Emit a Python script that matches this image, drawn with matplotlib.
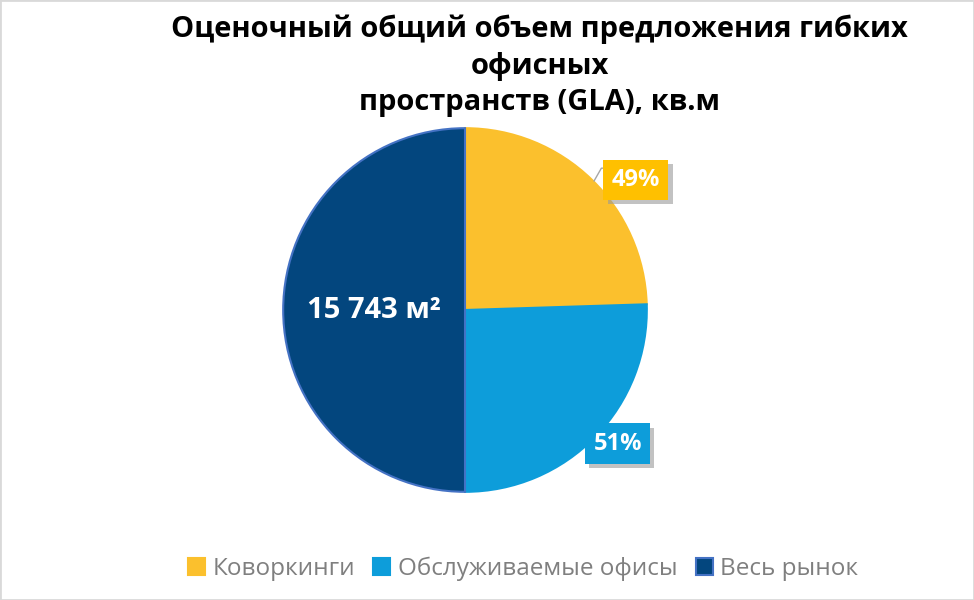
import matplotlib.pyplot as plt
import matplotlib.patheffects as pe
from matplotlib.patches import Rectangle

# Данные
categories = ['Коворкинги', 'Обслуживаемые офисы', 'Весь рынок']
values = [7714, 8029, 15743]
colors = ['#FBC02D', '#0D9DDA', '#03467E']
edge_colors = ['#FBC02D', '#0D9DDA', '#4472C4']
share_labels = ['49%', '51%']
total_label = '15 743 м²'

plt.rcParams['font.family'] = ['Open Sans', 'DejaVu Sans']

fig = plt.figure(figsize=(9.74, 6), dpi=100)
fig.patches.append(Rectangle((0, 0), 1, 1, transform=fig.transFigure,
                             fill=False, edgecolor='#D9D9D9', linewidth=2))

# оси, чтобы центр круга был около (465, 310) px, радиус ~182 px
ax = fig.add_axes([(465 - 200) / 974, (600 - 310 - 200) / 600, 400 / 974, 400 / 600])

wedges, _ = ax.pie(values, colors=colors, startangle=90, counterclock=False,
                   radius=1.0, wedgeprops=dict(linewidth=1.5))
for w, ec in zip(wedges, edge_colors):
    w.set_edgecolor(ec)

ax.set_xlim(-1.1, 1.1)
ax.set_ylim(-1.1, 1.1)
ax.set_aspect('equal')
ax.axis('off')

shadow = [pe.SimplePatchShadow(offset=(3, -3), shadow_rgbFace='#9A9A9A', alpha=0.6), pe.Normal()]

# выноска для 49%
ax.plot([0.71, 0.75, 0.80], [0.71, 0.78, 0.78], color='#A6A6A6', linewidth=1)

t1 = ax.text(0.94, 0.715, share_labels[0], ha='center', va='center', color='white',
             fontsize=17, fontweight='bold',
             bbox=dict(boxstyle='square,pad=0.35', facecolor='#FFC000', edgecolor='none'))
t2 = ax.text(0.84, -0.735, share_labels[1], ha='center', va='center', color='white',
             fontsize=17, fontweight='bold',
             bbox=dict(boxstyle='square,pad=0.35', facecolor='#0D9DDA', edgecolor='none'))
for t in (t1, t2):
    t.get_bbox_patch().set_path_effects(shadow)

ax.text(-0.5, 0.0, total_label, ha='center', va='center', color='white',
        fontsize=21, fontweight='bold')

fig.text(0.554, 0.975, 'Оценочный общий объем предложения гибких\nофисных\nпространств (GLA), кв.м',
         ha='center', va='top', fontsize=21, fontweight='bold', color='black',
         linespacing=1.33)

leg = fig.legend(wedges, categories, loc='center', bbox_to_anchor=(0.537, 0.052), ncol=3,
                 frameon=False, fontsize=17.5, handlelength=0.7, handleheight=0.7,
                 handletextpad=0.3, columnspacing=0.75)
for txt in leg.get_texts():
    txt.set_color('#7F7F7F')

fig.savefig('out.png', dpi=100)
